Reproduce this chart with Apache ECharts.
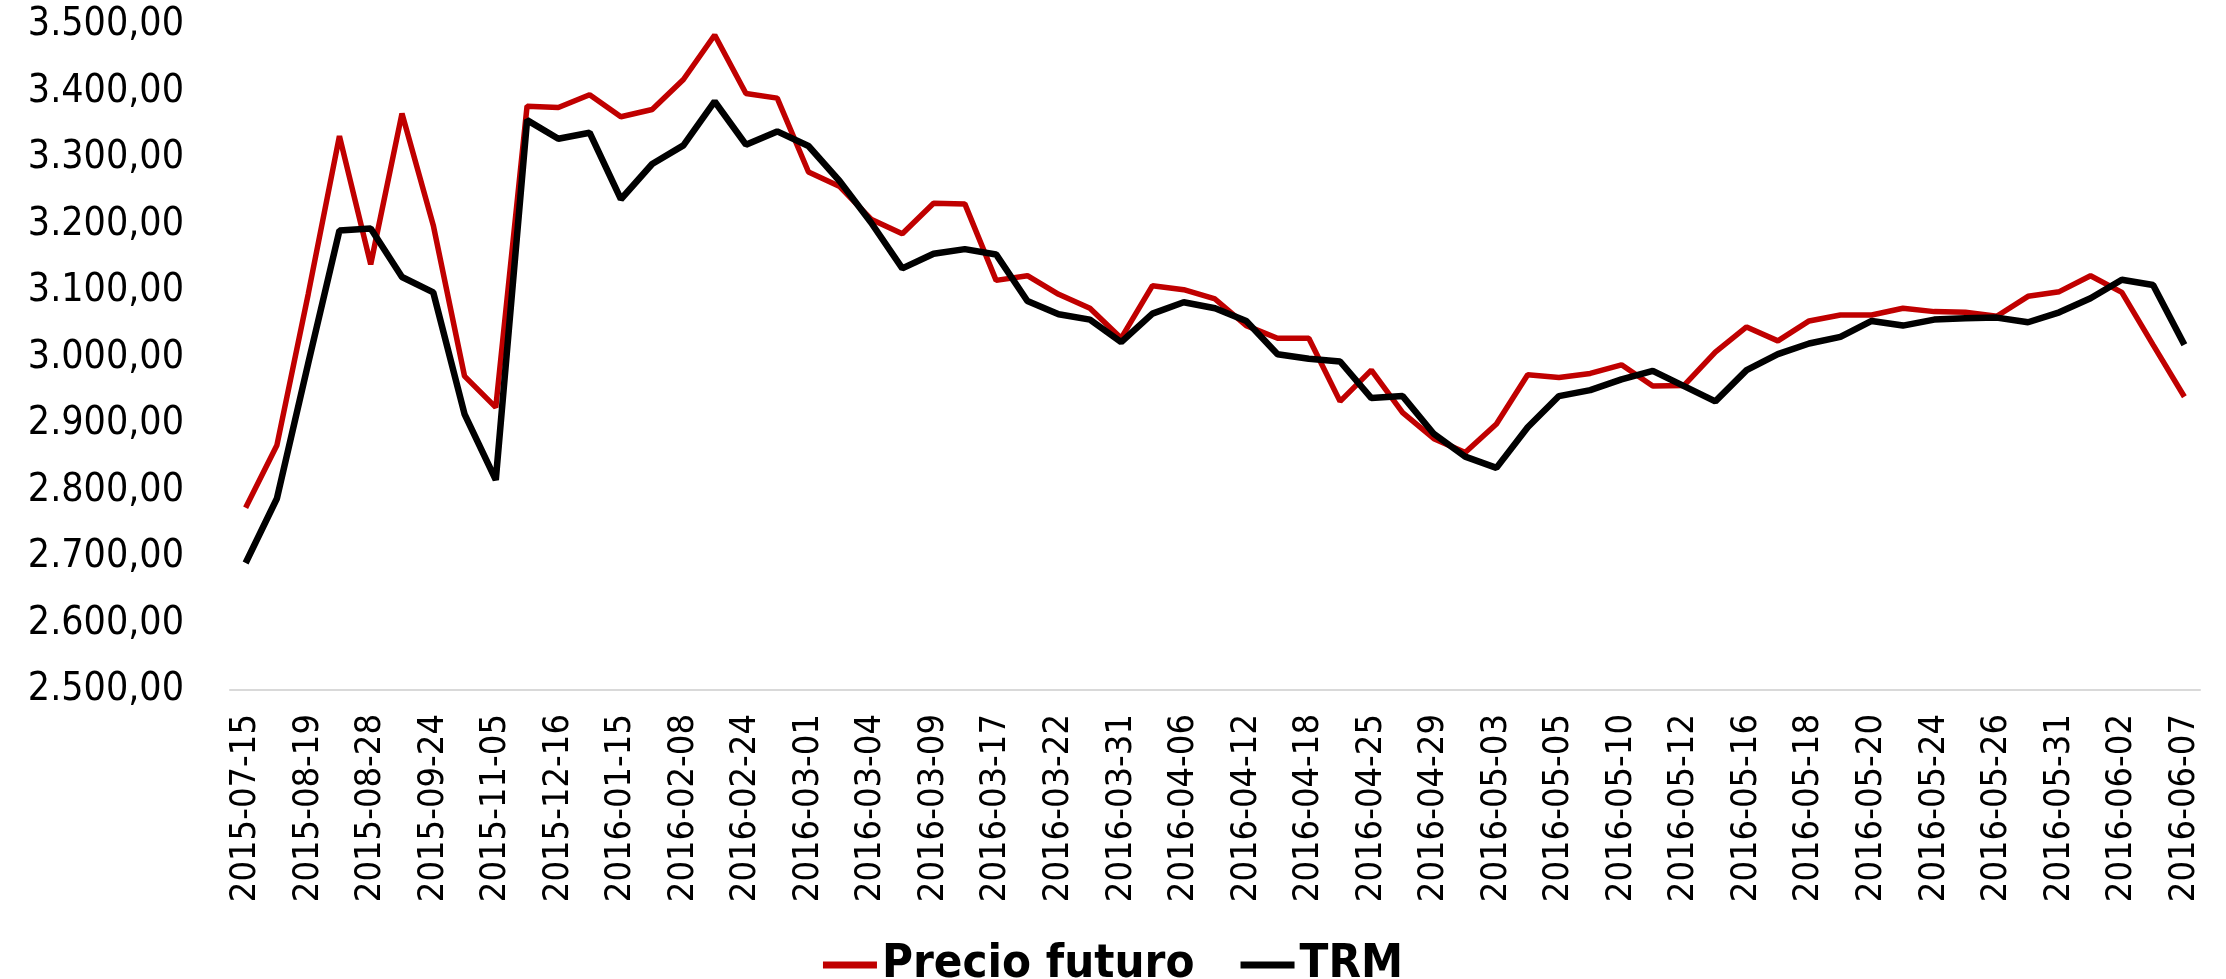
<!DOCTYPE html>
<html>
<head>
<meta charset="utf-8">
<script src="https://cdn.jsdelivr.net/npm/echarts@6/dist/echarts.min.js"></script>
<style>
  html, body { margin: 0; padding: 0; background: #ffffff; }
  #chart { width: 2226px; height: 979px; }
</style>
</head>
<body>
<div id="chart"></div>
<script>
// Categories (every other date is shown on the axis; unlabeled dates are estimates)
var fechas = [
  '2015-07-15','2015-08-05','2015-08-19','2015-08-24','2015-08-28','2015-09-08','2015-09-24','2015-10-15',
  '2015-11-05','2015-11-25','2015-12-16','2016-01-05','2016-01-15','2016-01-27','2016-02-08','2016-02-12',
  '2016-02-24','2016-02-26','2016-03-01','2016-03-02','2016-03-04','2016-03-07','2016-03-09','2016-03-15',
  '2016-03-17','2016-03-18','2016-03-22','2016-03-29','2016-03-31','2016-04-04','2016-04-06','2016-04-08',
  '2016-04-12','2016-04-14','2016-04-18','2016-04-20','2016-04-25','2016-04-27','2016-04-29','2016-05-02',
  '2016-05-03','2016-05-04','2016-05-05','2016-05-06','2016-05-10','2016-05-11','2016-05-12','2016-05-13',
  '2016-05-16','2016-05-17','2016-05-18','2016-05-19','2016-05-20','2016-05-23','2016-05-24','2016-05-25',
  '2016-05-26','2016-05-27','2016-05-31','2016-06-01','2016-06-02','2016-06-03','2016-06-07'
];

var precioFuturo = [
  2774, 2868, 3095, 3333, 3140, 3367, 3199, 2972,
  2925, 3378, 3376, 3395, 3362, 3373, 3418, 3485,
  3397, 3390, 3279, 3257, 3208, 3186, 3232, 3231,
  3116, 3123, 3095, 3074, 3029, 3108, 3102, 3088,
  3048, 3029, 3029, 2934, 2981, 2917, 2878, 2857,
  2900, 2974, 2970, 2976, 2989, 2957, 2958, 3008,
  3046, 3025, 3055, 3064, 3064, 3074, 3069, 3068,
  3062, 3092, 3099, 3123, 3098, 3019, 2941
];

var trm = [
  2691, 2788, 2991, 3191, 3194, 3121, 3098, 2915,
  2816, 3357, 3329, 3338, 3238, 3291, 3319, 3385,
  3320, 3340, 3318, 3265, 3203, 3134, 3156, 3163,
  3155, 3085, 3065, 3057, 3023, 3066, 3083, 3074,
  3055, 3005, 2998, 2994, 2939, 2942, 2885, 2851,
  2834, 2895, 2942, 2951, 2967, 2980, 2957, 2934,
  2981, 3005, 3021, 3031, 3055, 3048, 3057, 3059,
  3060, 3053, 3068, 3089, 3117, 3109, 3019
];

var yMin = 2500, yMax = 3500, yStep = 100;
var seriesNames = ['Precio futuro', 'TRM'];

function formatoES(v) {
  var parts = v.toFixed(2).split('.');
  var ent = parts[0].replace(/\B(?=(\d{3})+(?!\d))/g, '.');
  return ent + ',' + parts[1];
}

var FONT = '"DejaVu Sans Condensed", "DejaVu Sans", sans-serif';

var chart = echarts.init(document.getElementById('chart'), null, { renderer: 'canvas' });
chart.setOption({
  backgroundColor: '#ffffff',
  animation: false,
  grid: { left: 230, right: 26, top: 25, bottom: 289, containLabel: false },
  legend: {
    data: seriesNames,
    left: 'center',
    top: 936,
    icon: 'rect',
    itemWidth: 54,
    itemHeight: 7,
    itemGap: 46,
    textStyle: { fontFamily: FONT, fontWeight: 'bold', fontSize: 47, color: '#000000', lineHeight: 48 }
  },
  xAxis: {
    type: 'category',
    data: fechas,
    boundaryGap: true,
    axisLine: { show: true, lineStyle: { color: '#D9D9D9', width: 2 } },
    axisTick: { show: false },
    axisLabel: {
      interval: 1,
      rotate: 90,
      margin: 24,
      fontFamily: FONT,
      fontSize: 36,
      color: '#000000'
    },
    splitLine: { show: false }
  },
  yAxis: {
    type: 'value',
    min: yMin,
    max: yMax,
    interval: yStep,
    axisLine: { show: false },
    axisTick: { show: false },
    splitLine: { show: false },
    axisLabel: {
      margin: 46,
      fontFamily: FONT,
      fontSize: 39,
      color: '#000000',
      formatter: formatoES
    }
  },
  series: [
    {
      name: seriesNames[0],
      type: 'line',
      data: precioFuturo,
      symbol: 'none',
      lineStyle: { color: '#C00000', width: 5.5 },
      itemStyle: { color: '#C00000' },
      z: 2
    },
    {
      name: seriesNames[1],
      type: 'line',
      data: trm,
      symbol: 'none',
      lineStyle: { color: '#000000', width: 6.5 },
      itemStyle: { color: '#000000' },
      z: 3
    }
  ]
});
</script>
</body>
</html>
